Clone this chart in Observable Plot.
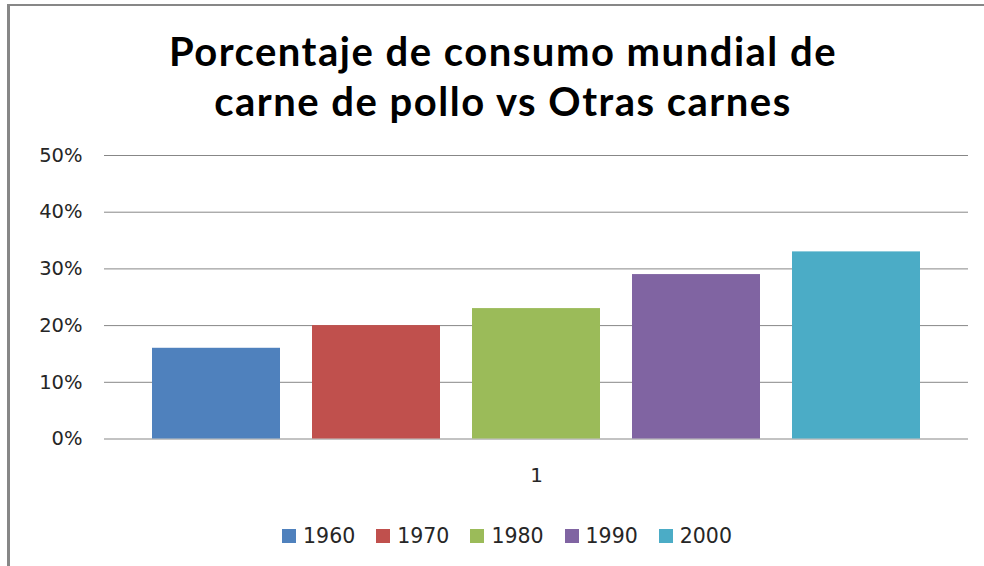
<!DOCTYPE html>
<html>
<head>
<meta charset="utf-8">
<script src="https://cdn.jsdelivr.net/npm/d3@7"></script>
<script src="https://cdn.jsdelivr.net/npm/@observablehq/plot@0.6"></script>
<style>
  html, body { margin: 0; padding: 0; background: #fff; overflow: hidden; }
  #wrap { position: relative; width: 984px; height: 566px; overflow: hidden; background: #fff; }
  #topline { position: absolute; left: 7px; top: 4px; width: 977px; height: 2px; background: #878787; }
  #leftline { position: absolute; left: 7px; top: 4px; width: 3px; height: 562px; background: #878787; }
  #title { position: absolute; left: 0; top: 0; }
  #chart { position: absolute; left: 0; top: 0; }
  #legend { position: absolute; left: 0; top: 524px; width: 984px; display: flex; justify-content: center; padding-left: 30px; box-sizing: border-box; }
  #legend .lg-swatches { font-family: "DejaVu Sans"; font-size: 20.5px; color: #262626; margin: 0; min-height: 0; }
  #legend .lg-swatch { margin-right: 21px !important; }
  #legend .lg-swatch:last-child { margin-right: 0 !important; }
  #legend .lg-swatch > svg { margin-right: 7px !important; }
</style>
</head>
<body>
<div id="wrap">
  <div id="topline"></div>
  <div id="leftline"></div>
  <svg id="title" width="984" height="130"></svg>
  <div id="chart"></div>
  <div id="legend"></div>
</div>
<script>
const titleLines = ["Porcentaje de consumo mundial de", "carne de pollo vs Otras carnes"];
const categories = ["1"];
const years = ["1960", "1970", "1980", "1990", "2000"];
const values = [0.16, 0.20, 0.23, 0.29, 0.33];
const colors = ["#4F81BD", "#C0504D", "#9BBB59", "#8064A2", "#4BACC6"];
const yTicks = [0, 0.1, 0.2, 0.3, 0.4, 0.5];

// title
const tsvg = d3.select("#title");
tsvg.selectAll("text").data(titleLines).join("text")
  .attr("x", 503)
  .attr("y", (d, i) => [66, 116][i])
  .attr("text-anchor", "middle")
  .attr("font-family", "Lato")
  .attr("font-weight", "bold")
  .attr("font-size", 40)
  .attr("letter-spacing", 1.5)
  .attr("fill", "#000")
  .text(d => d);

const data = years.map((y, i) => ({cat: categories[0], year: y, value: values[i]}));

const plot = Plot.plot({
  width: 984,
  height: 500,
  marginTop: 155,
  marginBottom: 61.5,
  marginLeft: 104,
  marginRight: 16,
  style: {fontFamily: "DejaVu Sans", color: "#262626", background: "transparent", overflow: "visible"},
  fx: {domain: categories, padding: 0},
  x: {domain: years, paddingInner: 0.2, paddingOuter: 0.3, axis: null},
  y: {domain: [0, 0.5]},
  color: {domain: years, range: colors},
  marks: [
    Plot.ruleY(yTicks, {stroke: "#878787", strokeWidth: 1, strokeOpacity: 1}),
    Plot.barY(data, {fx: "cat", x: "year", y: "value", fill: "year"}),
    Plot.axisY(yTicks, {tickSize: 0, tickPadding: 22, fontSize: 19.5, label: null,
      tickFormat: d => Math.round(d * 100) + "%"}),
    Plot.axisFx({anchor: "bottom", tickSize: 0, tickPadding: 29, fontSize: 20, label: null})
  ]
});
document.getElementById("chart").appendChild(plot);

const leg = plot.legend("color", {className: "lg", swatchSize: 14});
document.getElementById("legend").appendChild(leg);
</script>
</body>
</html>
